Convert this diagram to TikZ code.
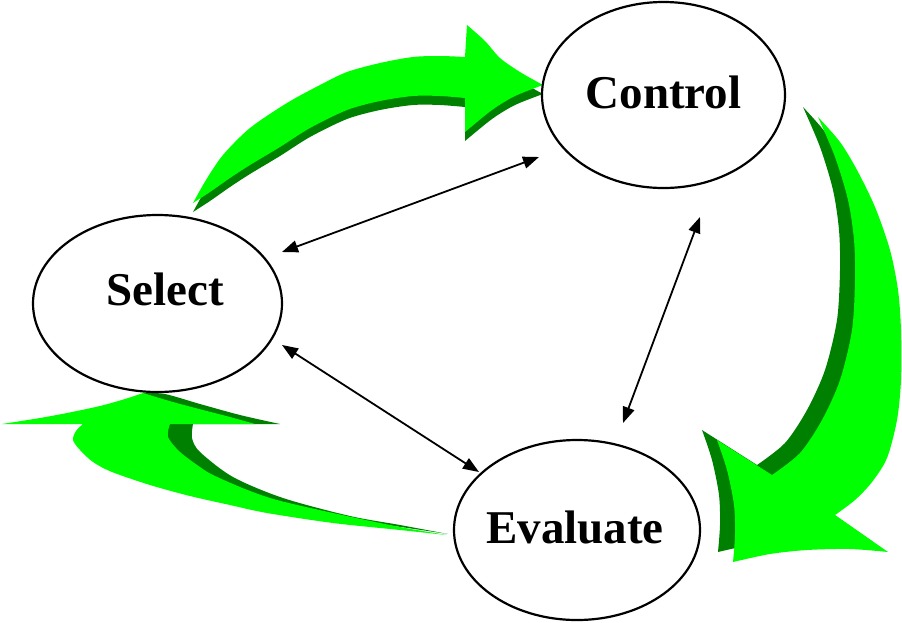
\documentclass[tikz,border=0pt]{standalone}
\usepackage{fontspec}
\setmainfont{Liberation Serif}
\usetikzlibrary{arrows.meta,shapes.geometric}
\definecolor{leaf}{RGB}{0,255,0}
\definecolor{leafshade}{RGB}{0,128,0}
\begin{document}
\begin{tikzpicture}[x=1pt,y=-1pt,
  stage/.style={ellipse,draw=black,line width=2.2pt,fill=white,inner sep=0pt},
  stagelabel/.style={font=\fontsize{47}{50}\selectfont\bfseries,inner sep=0pt,anchor=base},
  link/.style={{Triangle[length=16pt,width=12pt]}-{Triangle[length=16pt,width=12pt]},line width=1.8pt}]
\useasboundingbox (0,0) rectangle (902,622);

% Sweeping arrow Select -> Control (shaded copy first, then the face)
\foreach \dx/\dy/\tone in {0/9/leafshade, 0/0/leaf}{
  \fill[\tone, shift={(\dx,\dy)}] (193,203)
    -- plot[smooth] coordinates {(193,203) (206,180) (223,155) (250,128) (287,103) (320,85) (347,72) (380,63) (413,57) (440,56) (465,57)}
    -- (467,25)
    -- plot[smooth] coordinates {(467,25) (485,41) (500,58) (520,72) (543,85)}
    -- plot[smooth] coordinates {(543,85) (515,96) (492,110) (465,132)}
    -- (465,98)
    -- plot[smooth] coordinates {(465,98) (440,96) (413,96) (380,101) (347,110) (310,128) (280,147) (250,165) (230,178) (210,192) (193,203)}
    -- cycle;
}

% Sweeping arrow Control -> Evaluate
\foreach \dx/\dy/\tone in {-15/-10/leafshade, 0/0/leaf}{
  \fill[\tone, shift={(\dx,\dy)}] (818,117)
    -- plot[smooth] coordinates {(818,117) (840,142) (857,170) (875,207) (890,250) (898,290) (901,330) (901,380) (897,420) (887,458) (872,482) (855,500) (835,515)}
    -- (888,552)
    -- plot[smooth] coordinates {(888,552) (850,549) (807,550) (770,554) (733,562)}
    -- plot[smooth] coordinates {(733,562) (735,535) (734,505) (727,470) (717,440)}
    -- (772,475)
    -- plot[smooth] coordinates {(772,475) (800,453) (822,420) (840,380) (852,330) (855,280) (854,240) (848,200) (835,157) (818,117)}
    -- cycle;
}

% Sweeping arrow Evaluate -> Select: shaded side
\fill[leafshade] (143,393)
  -- plot[smooth] coordinates {(143,393) (165,394) (200,404) (240,415) (280,424)}
  -- (193,424)
  -- plot[smooth] coordinates {(193,424) (192,438) (200,452) (233,477) (283,498) (350,516) (400,525) (448,534)}
  -- (300,512) -- (200,475) -- (150,440) -- (150,410) -- cycle;
% ... and its face
\fill[leaf] (447,535)
  -- plot[smooth] coordinates {(447,535) (400,530) (333,523) (267,513) (230,505) (190,496) (150,485) (112,472) (93,462) (80,450) (73,440) (76,431) (83,424)}
  -- (2,424)
  -- plot[smooth] coordinates {(2,424) (40,418) (67,413) (100,406) (125,399) (143,393)}
  -- plot[smooth] coordinates {(143,393) (173,402) (203,410) (230,417) (255,424)}
  -- (170,424)
  -- plot[smooth] coordinates {(170,424) (168,437) (180,452) (200,467) (213,475) (245,489) (277,500) (333,513) (400,527) (447,535)}
  -- cycle;

% The three stages
\node[stage, minimum width=243pt, minimum height=186pt] (control) at (663.5,95) {};
\node[stage, minimum width=249pt, minimum height=177pt] (select) at (157.5,303.5) {};
\node[stage, minimum width=246pt, minimum height=180pt] (evaluate) at (577,530) {};

\node[stagelabel] (controlText) at (663.5,108) {Control};
\node[stagelabel] (selectText) at (165.5,305) {Select};
\node[stagelabel] (evaluateText) at (575,543) {Evaluate};

% Two-way links between the stages
\coordinate (selA) at (282,252);
\coordinate (conA) at (539,157);
\coordinate (selB) at (282,345);
\coordinate (evaB) at (479,472);
\coordinate (evaC) at (623,423);
\coordinate (conC) at (700,217);
\draw[link] (selA) -- (conA);
\draw[link] (selB) -- (evaB);
\draw[link] (evaC) -- (conC);
\end{tikzpicture}
\end{document}
